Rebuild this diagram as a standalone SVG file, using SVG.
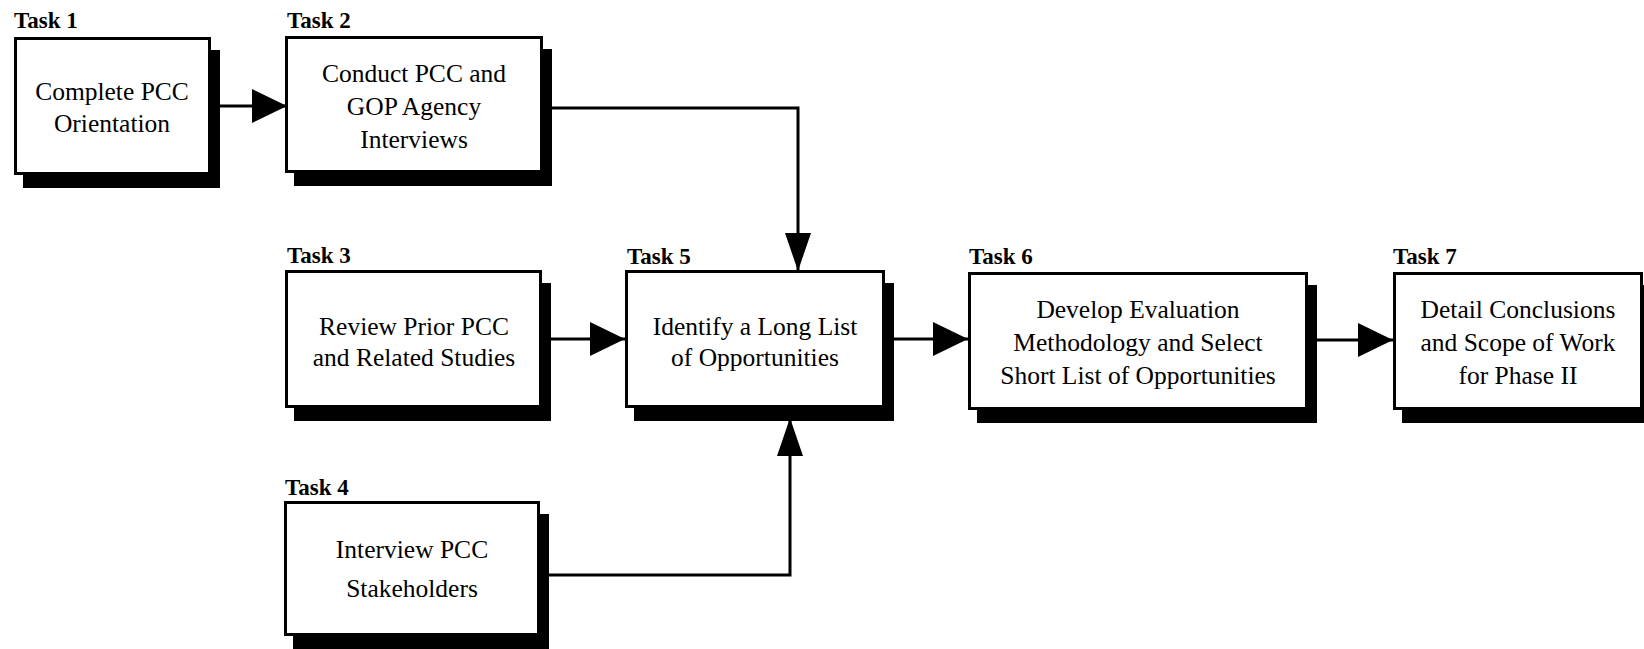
<svg xmlns="http://www.w3.org/2000/svg" width="1644" height="649" viewBox="0 0 1644 649">
  <style>
    .box { fill: #ffffff; stroke: #000000; stroke-width: 3; }
    .shadow { fill: #000000; }
    .label { font-family: "Liberation Serif", "Times New Roman", serif; font-weight: bold; font-size: 23px; fill: #000000; }
    .body { font-family: "Liberation Serif", "Times New Roman", serif; font-size: 25.5px; fill: #000000; text-anchor: middle; }
    .link { fill: none; stroke: #000000; stroke-width: 3; }
  </style>
  <defs>
    <!-- wide head for horizontal flow arrows -->
    <marker id="headWide" markerUnits="userSpaceOnUse" markerWidth="36" markerHeight="36" refX="35" refY="17" orient="auto">
      <path d="M0,0 L35,17 L0,34 Z" fill="#000000"/>
    </marker>
    <!-- narrower, longer head for vertical arrows into Task 5 -->
    <marker id="headTall" markerUnits="userSpaceOnUse" markerWidth="40" markerHeight="28" refX="38" refY="13" orient="auto">
      <path d="M0,0 L38,13 L0,26 Z" fill="#000000"/>
    </marker>
  </defs>

  <rect x="0" y="0" width="1644" height="649" fill="#ffffff"/>

  <g id="connectors">
    <path class="link" d="M211,106 H287" marker-end="url(#headWide)"/>
    <path class="link" d="M543,108 H798 V271" marker-end="url(#headTall)"/>
    <path class="link" d="M542,339 H625" marker-end="url(#headWide)"/>
    <path class="link" d="M540,575 H790 V418" marker-end="url(#headTall)"/>
    <path class="link" d="M885,339 H968" marker-end="url(#headWide)"/>
    <path class="link" d="M1308,340 H1393" marker-end="url(#headWide)"/>
  </g>

  <g id="task1">
    <text class="label" x="14" y="28">Task 1</text>
    <rect class="shadow" x="23" y="50" width="197" height="138"/>
    <rect class="box" x="15.5" y="38.5" width="194" height="135"/>
    <text class="body" x="112" y="100">Complete PCC</text>
    <text class="body" x="112" y="132">Orientation</text>
  </g>

  <g id="task2">
    <text class="label" x="287" y="28">Task 2</text>
    <rect class="shadow" x="294" y="49" width="258" height="137"/>
    <rect class="box" x="286.5" y="37.5" width="255" height="134"/>
    <text class="body" x="414" y="82">Conduct PCC and</text>
    <text class="body" x="414" y="115">GOP Agency</text>
    <text class="body" x="414" y="148">Interviews</text>
  </g>

  <g id="task3">
    <text class="label" x="287" y="263">Task 3</text>
    <rect class="shadow" x="294" y="283" width="257" height="138"/>
    <rect class="box" x="286.5" y="271.5" width="254" height="135"/>
    <text class="body" x="414" y="335">Review Prior PCC</text>
    <text class="body" x="414" y="366">and Related Studies</text>
  </g>

  <g id="task4">
    <text class="label" x="285" y="495">Task 4</text>
    <rect class="shadow" x="293" y="514" width="256" height="135"/>
    <rect class="box" x="285.5" y="502.5" width="253" height="132"/>
    <text class="body" x="412" y="558">Interview PCC</text>
    <text class="body" x="412" y="597">Stakeholders</text>
  </g>

  <g id="task5">
    <text class="label" x="627" y="264">Task 5</text>
    <rect class="shadow" x="634" y="283" width="260" height="138"/>
    <rect class="box" x="626.5" y="271.5" width="257" height="135"/>
    <text class="body" x="755" y="335">Identify a Long List</text>
    <text class="body" x="755" y="366">of Opportunities</text>
  </g>

  <g id="task6">
    <text class="label" x="969" y="264">Task 6</text>
    <rect class="shadow" x="977" y="285" width="340" height="138"/>
    <rect class="box" x="969.5" y="273.5" width="337" height="135"/>
    <text class="body" x="1138" y="318">Develop Evaluation</text>
    <text class="body" x="1138" y="351">Methodology and Select</text>
    <text class="body" x="1138" y="384">Short List of Opportunities</text>
  </g>

  <g id="task7">
    <text class="label" x="1393" y="264">Task 7</text>
    <rect class="shadow" x="1402" y="285" width="250" height="138"/>
    <rect class="box" x="1394.5" y="273.5" width="247" height="135"/>
    <text class="body" x="1518" y="318">Detail Conclusions</text>
    <text class="body" x="1518" y="351">and Scope of Work</text>
    <text class="body" x="1518" y="384">for Phase II</text>
  </g>
</svg>
